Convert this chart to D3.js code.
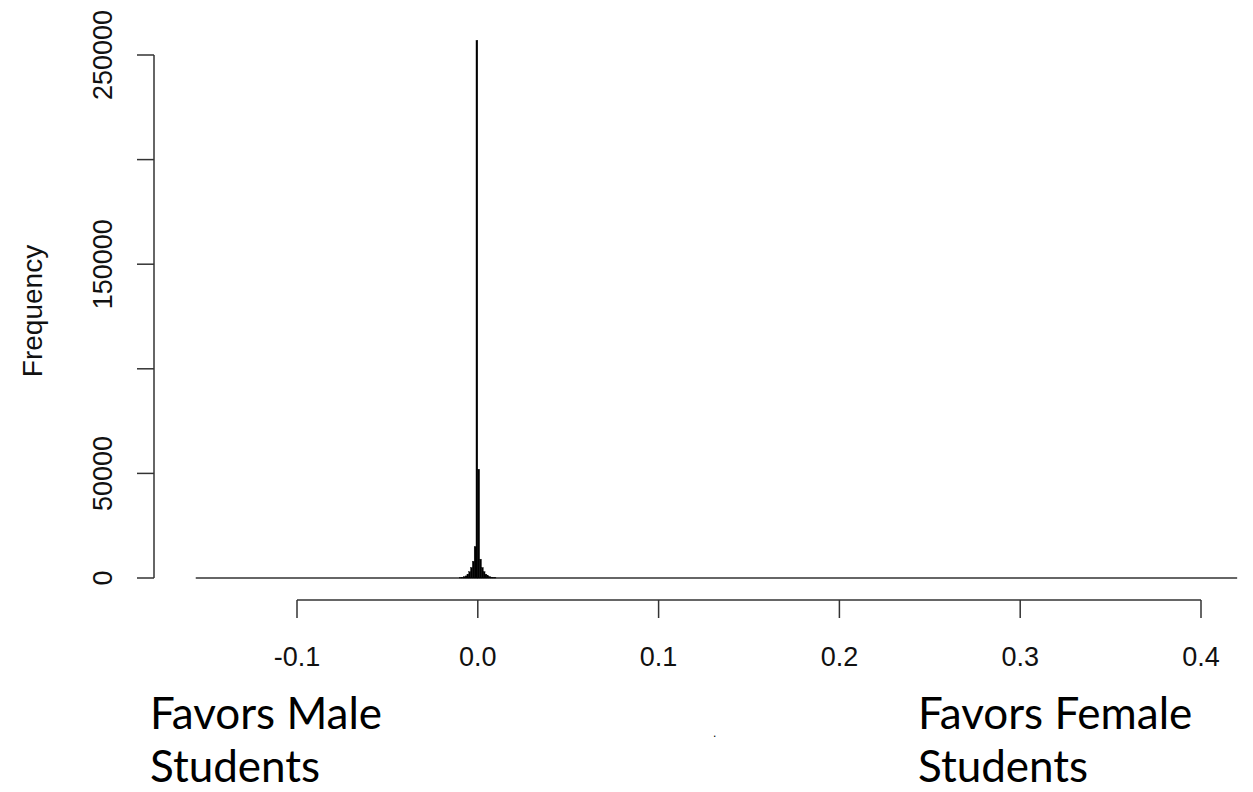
<!DOCTYPE html>
<html>
<head>
<meta charset="utf-8">
<script src="https://cdn.jsdelivr.net/npm/d3@7"></script>
<style>
  html, body { margin: 0; padding: 0; background: #fff; }
  svg { display: block; }
</style>
</head>
<body>
<svg id="chart" width="1253" height="792"></svg>
<script>
// ---- data ----
const binStarts = [-0.010, -0.009, -0.008, -0.007, -0.006, -0.005, -0.004, -0.003, -0.002, -0.001,
                   0.000, 0.001, 0.002, 0.003, 0.004, 0.005, 0.006, 0.007, 0.008, 0.009];
const binWidth = 0.001;
const counts = [150, 300, 600, 1000, 1800, 3000, 5000, 8000, 15000, 257000,
                52000, 9000, 5000, 3000, 1800, 1100, 700, 400, 200, 100];
const histRange = [-0.156, 0.42];
const xTicks = [-0.1, 0.0, 0.1, 0.2, 0.3, 0.4];
const xTickLabels = ["-0.1", "0.0", "0.1", "0.2", "0.3", "0.4"];
const yTicks = [0, 50000, 100000, 150000, 200000, 250000];
const yTickLabels = ["0", "50000", "", "150000", "", "250000"];
const yTitle = "Frequency";
const leftNote = ["Favors Male", "Students"];
const rightNote = ["Favors Female", "Students"];

// ---- drawing ----
const svg = d3.select("#chart");
const x = d3.scaleLinear().domain([-0.1, 0.4]).range([297, 1201]);
const y = d3.scaleLinear().domain([0, 250000]).range([578, 55]);
const axisColor = "#333";
const tickFont = "'Liberation Sans', Arial, sans-serif";

// baseline of zero-height bins
svg.append("line")
  .attr("x1", x(histRange[0])).attr("x2", x(histRange[1]))
  .attr("y1", y(0)).attr("y2", y(0))
  .attr("stroke", axisColor).attr("stroke-width", 1.5);

// bars
svg.append("g").selectAll("rect")
  .data(binStarts.map((b, i) => ({ b, c: counts[i] })))
  .join("rect")
  .attr("x", d => x(d.b))
  .attr("width", d => x(d.b + binWidth) - x(d.b))
  .attr("y", d => y(d.c))
  .attr("height", d => y(0) - y(d.c))
  .attr("fill", "#000")
  .attr("stroke", "#000")
  .attr("stroke-width", 0.4);

// x axis (R style: offset below)
const gx = svg.append("g");
gx.append("line")
  .attr("x1", x(xTicks[0])).attr("x2", x(xTicks[xTicks.length - 1]))
  .attr("y1", 600).attr("y2", 600)
  .attr("stroke", axisColor).attr("stroke-width", 1.5);
gx.selectAll("line.tick").data(xTicks).join("line")
  .attr("class", "tick")
  .attr("x1", d => x(d)).attr("x2", d => x(d))
  .attr("y1", 600).attr("y2", 618)
  .attr("stroke", axisColor).attr("stroke-width", 1.5);
gx.selectAll("text").data(xTicks).join("text")
  .attr("x", d => x(d)).attr("y", 666)
  .attr("text-anchor", "middle")
  .attr("font-family", tickFont).attr("font-size", 27)
  .attr("fill", "#111")
  .text((d, i) => xTickLabels[i]);

// y axis
const gy = svg.append("g");
gy.append("line")
  .attr("x1", 154).attr("x2", 154)
  .attr("y1", y(yTicks[0])).attr("y2", y(yTicks[yTicks.length - 1]))
  .attr("stroke", axisColor).attr("stroke-width", 1.5);
gy.selectAll("line.tick").data(yTicks).join("line")
  .attr("class", "tick")
  .attr("x1", 154).attr("x2", 137)
  .attr("y1", d => y(d)).attr("y2", d => y(d))
  .attr("stroke", axisColor).attr("stroke-width", 1.5);
gy.selectAll("text").data(yTicks).join("text")
  .attr("transform", d => `translate(112,${y(d)}) rotate(-90)`)
  .attr("text-anchor", "middle")
  .attr("font-family", tickFont).attr("font-size", 27)
  .attr("fill", "#111")
  .text((d, i) => yTickLabels[i]);

svg.append("text")
  .attr("transform", "translate(42,311) rotate(-90)")
  .attr("text-anchor", "middle")
  .attr("font-family", tickFont).attr("font-size", 28)
  .attr("fill", "#111")
  .text(yTitle);

// side notes
const noteFont = "Lato, 'Open Sans', sans-serif";
function note(lines, x0) {
  svg.append("g").selectAll("text").data(lines).join("text")
    .attr("x", x0).attr("y", (d, i) => 729 + i * 53)
    .attr("font-family", noteFont).attr("font-size", 44)
    .attr("fill", "#000")
    .text(d => d);
}
note(leftNote, 150);
note(rightNote, 918);

svg.append("text")
  .attr("x", 713).attr("y", 737)
  .attr("font-family", tickFont).attr("font-size", 12)
  .attr("fill", "#000")
  .text(".");
</script>
</body>
</html>
